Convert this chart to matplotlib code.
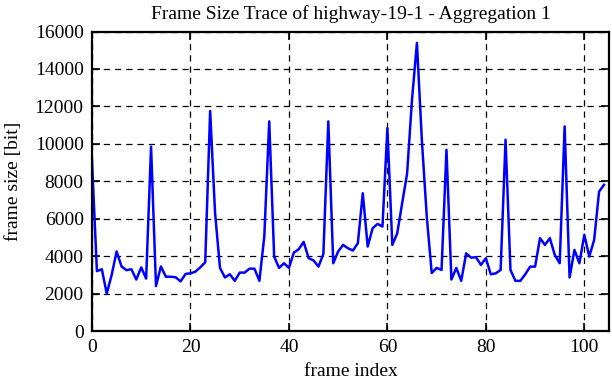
import matplotlib
matplotlib.use("Agg")
import matplotlib.pyplot as plt

frame_size = [
    9100, 3200, 3300, 2000, 3000, 4250, 3450, 3250, 3300, 2750,
    3400, 2800, 9850, 2400, 3450, 2900, 2900, 2870, 2650, 3050,
    3080, 3170, 3400, 3670, 11750, 6300, 3370, 2860, 3030, 2680,
    3120, 3120, 3330, 3330, 2680, 5050, 11200, 3980, 3370, 3620,
    3370, 4190, 4370, 4760, 3890, 3770, 3440, 4120, 11200, 3620,
    4250, 4600, 4420, 4300, 4690, 7360, 4510, 5490, 5720, 5580,
    10840, 4600, 5220, 6830, 8400, 12360, 15390, 10200, 6120, 3100,
    3370, 3260, 9680, 2750, 3370, 2680, 4150, 3920, 3940, 3530,
    3890, 3030, 3080, 3260, 10220, 3260, 2680, 2680, 3030, 3440,
    3440, 4960, 4600, 4960, 4060, 3620, 10930, 2860, 4330, 3620,
    5140, 3980, 4870, 7450, 7810,
]
frame_index = list(range(len(frame_size)))

x_ticks = [0, 20, 40, 60, 80, 100]
y_ticks = [0, 2000, 4000, 6000, 8000, 10000, 12000, 14000, 16000]

plt.rcParams["font.family"] = ["Liberation Serif", "DejaVu Serif"]
plt.rcParams["font.size"] = 14

fig = plt.figure(figsize=(6.12, 3.82), dpi=100, facecolor="white")
ax = fig.add_axes([0.1503, 0.1335, 0.8447, 0.784])

ax.plot(frame_index, frame_size, color="#0000ff", linewidth=1.8)

ax.set_xlim(0, 105)
ax.set_ylim(0, 16000)
ax.set_xticks(x_ticks)
ax.set_yticks(y_ticks)
ax.grid(True, color="black", linestyle=(0, (5, 4)), linewidth=0.9)
ax.tick_params(direction="in", top=True, right=True, length=6, width=1.2,
               labelsize=14, pad=6)
for s in ax.spines.values():
    s.set_linewidth(1.6)

ax.set_xlabel("frame index", labelpad=5)
ax.set_ylabel("frame size [bit]", labelpad=9)
ax.set_title("Frame Size Trace of highway-19-1 - Aggregation 1", fontsize=14, pad=9)

plt.savefig("out.png", dpi=100, facecolor="white")
plt.close()
